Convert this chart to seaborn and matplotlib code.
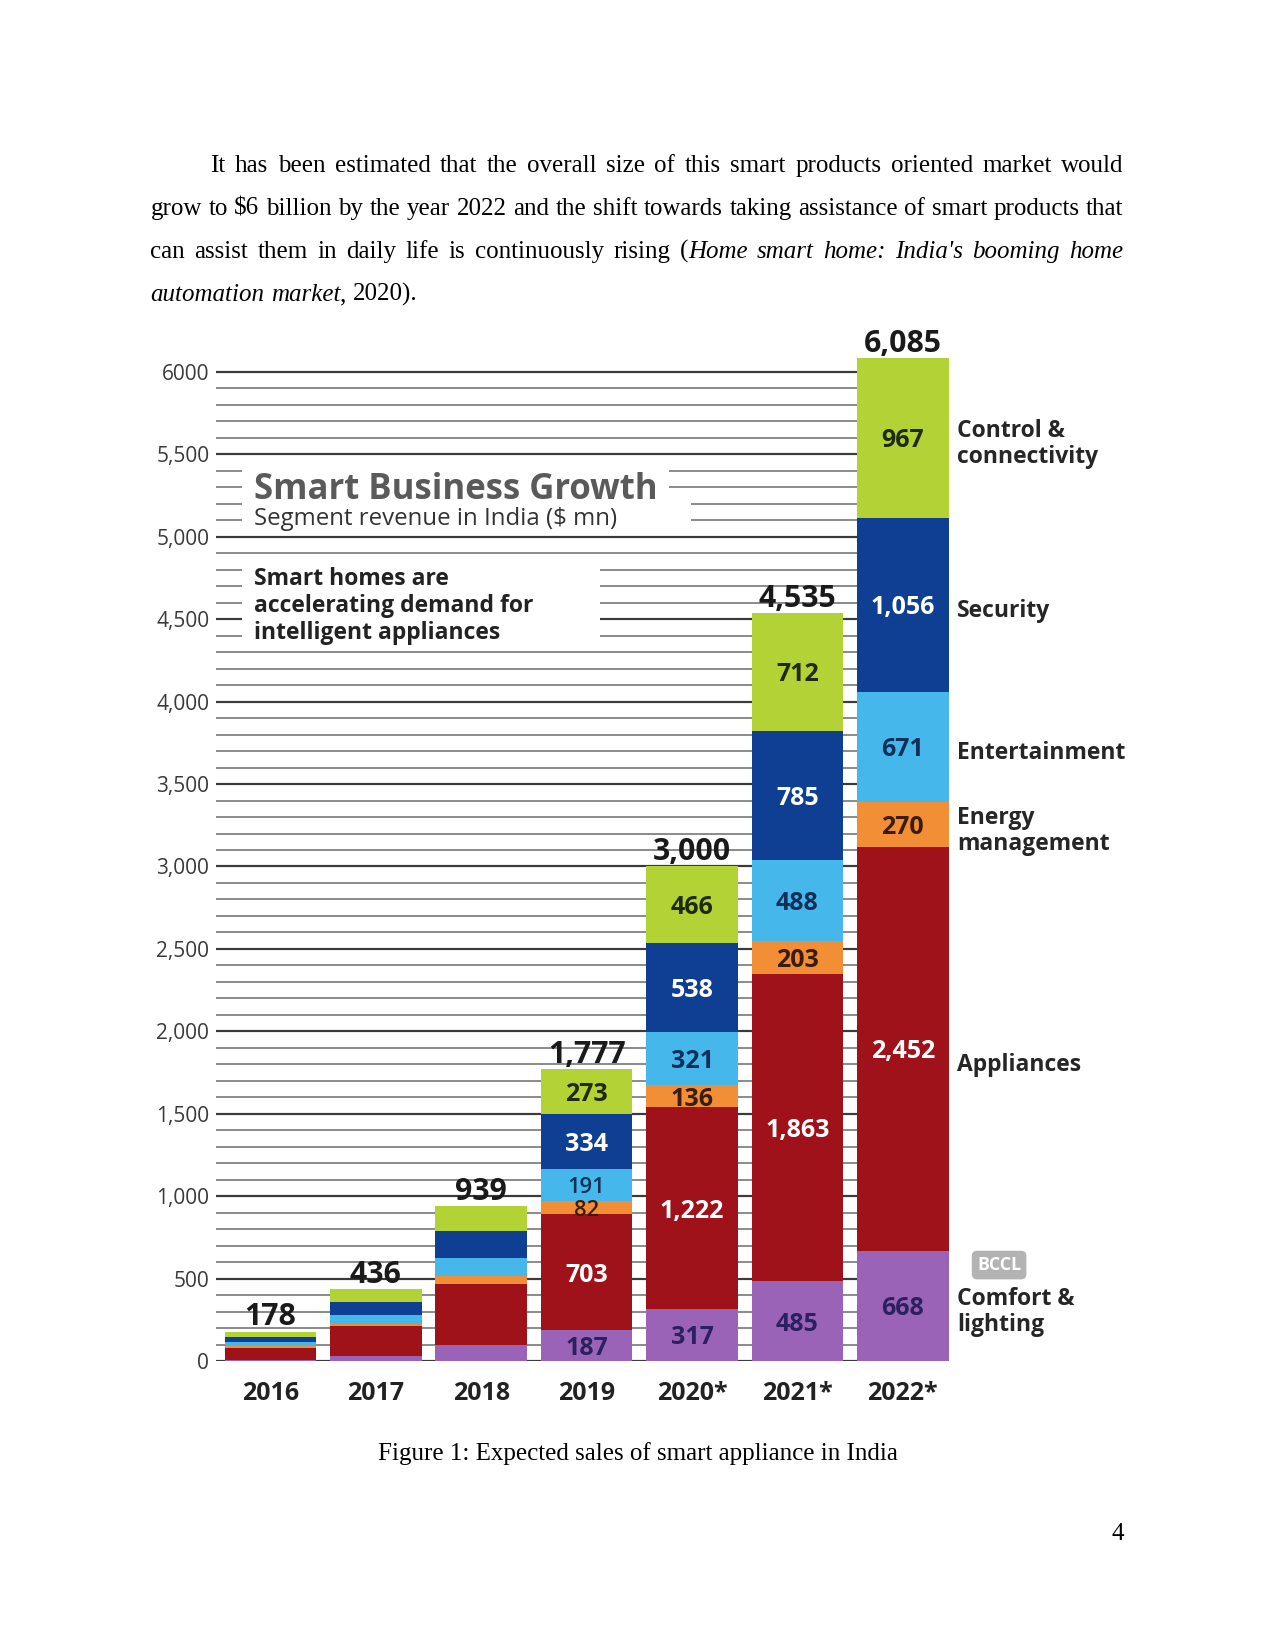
import matplotlib
matplotlib.use("Agg")
import matplotlib.pyplot as plt
import numpy as np
import pandas as pd
import seaborn as sns
from matplotlib.patches import Rectangle

# ---------------- data ----------------
years = ["2016", "2017", "2018", "2019", "2020*", "2021*", "2022*"]
total_labels = ["178", "436", "939", "1,777", "3,000", "4,535", "6,085"]
legend_labels = ["Comfort &\nlighting", "Appliances", "Energy\nmanagement",
                 "Entertainment", "Security", "Control &\nconnectivity"]
comfort = [5, 30, 96, 187, 317, 485, 668]
appliances = [75, 183, 370, 703, 1222, 1863, 2452]
energy = [8, 14, 51, 82, 136, 203, 270]
entertainment = [25, 51, 106, 191, 321, 488, 671]
security = [33, 77, 163, 334, 538, 785, 1056]
control = [32, 81, 153, 273, 466, 712, 967]
labelled_years = ["2019", "2020*", "2021*", "2022*"]
ytick_values = [0, 500, 1000, 1500, 2000, 2500, 3000, 3500, 4000, 4500, 5000, 5500, 6000]
ytick_labels = ["0", "500", "1,000", "1,500", "2,000", "2,500", "3,000", "3,500",
                "4,000", "4,500", "5,000", "5,500", "6000"]
title = "Smart Business Growth"
subtitle = "Segment revenue in India ($ mn)"
blurb = ["Smart homes are", "accelerating demand for", "intelligent appliances"]
paragraph = [
    "It has been estimated that the overall size of this smart products oriented market would",
    "grow to $6 billion by the year 2022 and the shift towards taking assistance of smart products that",
    "can assist them in daily life is continuously rising (_Home smart home: India's booming home_",
    "_automation market_, 2020).",
]
caption = "Figure 1: Expected sales of smart appliance in India"
page_number = "4"

# ---------------- style ----------------
sns.set_style("white")
plt.rcParams["font.family"] = ["Open Sans", "DejaVu Sans"]

W, H = 1275, 1650
fig = plt.figure(figsize=(8.5, 11), dpi=150)
fig.patch.set_facecolor("white")
renderer = fig.canvas.get_renderer()

# ---------------- page text ----------------
def parse_words(line, state):
    words = []
    for raw in line.split(" "):
        pieces = []
        buf = ""
        for ch in raw:
            if ch == "_":
                if buf:
                    pieces.append((buf, state[0]))
                buf = ""
                state[0] = not state[0]
            else:
                buf += ch
        if buf:
            pieces.append((buf, state[0]))
        words.append(pieces)
    return words

def draw_line(words, x0, x1, ybase, justify, size=12):
    items, total = [], 0.0
    for w in words:
        pieces = []
        for txt, ital in w:
            t = fig.text(0, 1 - ybase / H, txt, fontsize=size, family="Liberation Serif",
                         style="italic" if ital else "normal", va="baseline", ha="left",
                         color="black", parse_math=False)
            wd = t.get_window_extent(renderer).width
            pieces.append((t, wd))
            total += wd
        items.append(pieces)
    gap = (x1 - x0 - total) / (len(items) - 1) if justify else size * 150 / 72 * 0.25
    x = x0
    for pieces in items:
        for t, wd in pieces:
            t.set_x(x / W)
            x += wd
        x += gap

state = [False]
baselines = [172, 215, 258, 301]
for i, line in enumerate(paragraph):
    x0 = 210.4 if i == 0 else 150.4
    draw_line(parse_words(line, state), x0, 1123.5, baselines[i], justify=(i < len(paragraph) - 1))

fig.text(637.5 / W, 1 - 1460 / H, caption, fontsize=12, family="Liberation Serif",
         ha="center", va="baseline", color="black")
fig.text(1123.5 / W, 1 - 1540 / H, page_number, fontsize=12, family="Liberation Serif",
         ha="right", va="baseline", color="black")

# ---------------- chart ----------------
YMAX = 6200
ax = fig.add_axes([0.1691, 0.17515, 0.5754, 0.5994 * YMAX / 6000])
ax.set_facecolor("none")

seg_values = [comfort, appliances, energy, entertainment, security, control]
colors = ["#9b63b7", "#a0121a", "#f28e35", "#45b7ea", "#0f3f92", "#b3d235"]
text_colors = ["#2a2160", "white", "#3a1c0c", "#10305a", "white", "#1e2b0e"]

cums = []
cum = np.zeros(len(years))
for v in seg_values:
    cum = cum + np.array(v, dtype=float)
    cums.append(cum.copy())

for k in reversed(range(len(seg_values))):
    d = pd.DataFrame({"year": years, "value": cums[k]})
    sns.barplot(data=d, x="year", y="value", order=years, color=colors[k],
                saturation=1, width=0.87, errorbar=None, linewidth=0, ax=ax, zorder=2)

# gridlines every 100, darker at every 500
levels = np.arange(0, 6001, 100)
minor = [v for v in levels if v % 500 != 0]
major = [v for v in levels if v % 500 == 0]
ax.hlines(minor, -0.52, 6.0, colors="#8c8c8c", lw=0.95, zorder=0.5)
ax.hlines(major, -0.52, 6.0, colors="#3a3a3a", lw=1.05, zorder=0.5)

# white panels behind the heading text
for (x0, x1, y0, y1) in [(-0.27, 3.78, 5250, 5450), (-0.27, 3.99, 5050, 5250),
                         (-0.27, 3.125, 4350, 4850)]:
    ax.add_patch(Rectangle((x0, y0), x1 - x0, y1 - y0, facecolor="white",
                           edgecolor="none", zorder=0.8))

ax.text(-0.16, 5230, title, fontsize=16.7, fontweight="bold", color="#5a5a5a",
        ha="left", va="baseline", zorder=3)
ax.text(-0.16, 5072, subtitle, fontsize=11.5, color="#333333", ha="left",
        va="baseline", zorder=3, parse_math=False)
for yb, line in zip([4708, 4544, 4380], blurb):
    ax.text(-0.16, yb, line, fontsize=11, fontweight="bold", color="#222222",
            ha="left", va="baseline", zorder=3)

# segment labels
for i, yr in enumerate(years):
    if yr not in labelled_years:
        continue
    for k, v in enumerate(seg_values):
        c = cums[k][i] - v[i] / 2
        small = (yr == "2019" and k in (2, 3))
        ax.text(i, c, f"{v[i]:,}", ha="center", va="center_baseline",
                fontsize=10.5 if small else 12,
                fontweight="semibold" if small else "bold",
                color=text_colors[k], zorder=4)

# totals
for i, lab in enumerate(total_labels):
    ax.annotate(lab, (i, cums[-1][i]), xytext=(0, 3), textcoords="offset points",
                ha="center", va="baseline", fontsize=14.5, fontweight="bold",
                color="#1a1a1a", annotation_clip=False, zorder=4)

# right-hand segment names
last = len(years) - 1
name_offsets = [-3, -8, -3, -3, -3, -3]
for k, lab in enumerate(legend_labels):
    c = cums[k][last] - seg_values[k][last] / 2
    ax.annotate(lab, (6.514, c), xytext=(0, name_offsets[k]), textcoords="offset points",
                ha="left", va="center", fontsize=11, fontweight="bold",
                color="#262626", linespacing=1.1, annotation_clip=False, zorder=4)

ax.text(6.913, 582, "BCCL", ha="center", va="center", fontsize=8.5, fontweight="bold",
        color="white", clip_on=False,
        bbox=dict(boxstyle="round,pad=0.3", facecolor="#b3b3b3", edgecolor="none"))

ax.set_xlim(-0.52, 6.44)
ax.set_ylim(0, YMAX)
ax.set_yticks(ytick_values)
ax.set_yticklabels(ytick_labels, fontsize=10, color="#3a3a3a")
ax.set_xticks(range(len(years)))
ax.set_xticklabels(years, fontsize=12, fontweight="bold", color="#222222")
ax.tick_params(axis="y", length=0, pad=3)
ax.tick_params(axis="x", length=0, pad=9.5)
ax.set_xlabel("")
ax.set_ylabel("")
for s in ax.spines.values():
    s.set_visible(False)
ax.grid(False)

fig.savefig("out.png", dpi=150, facecolor="white")
